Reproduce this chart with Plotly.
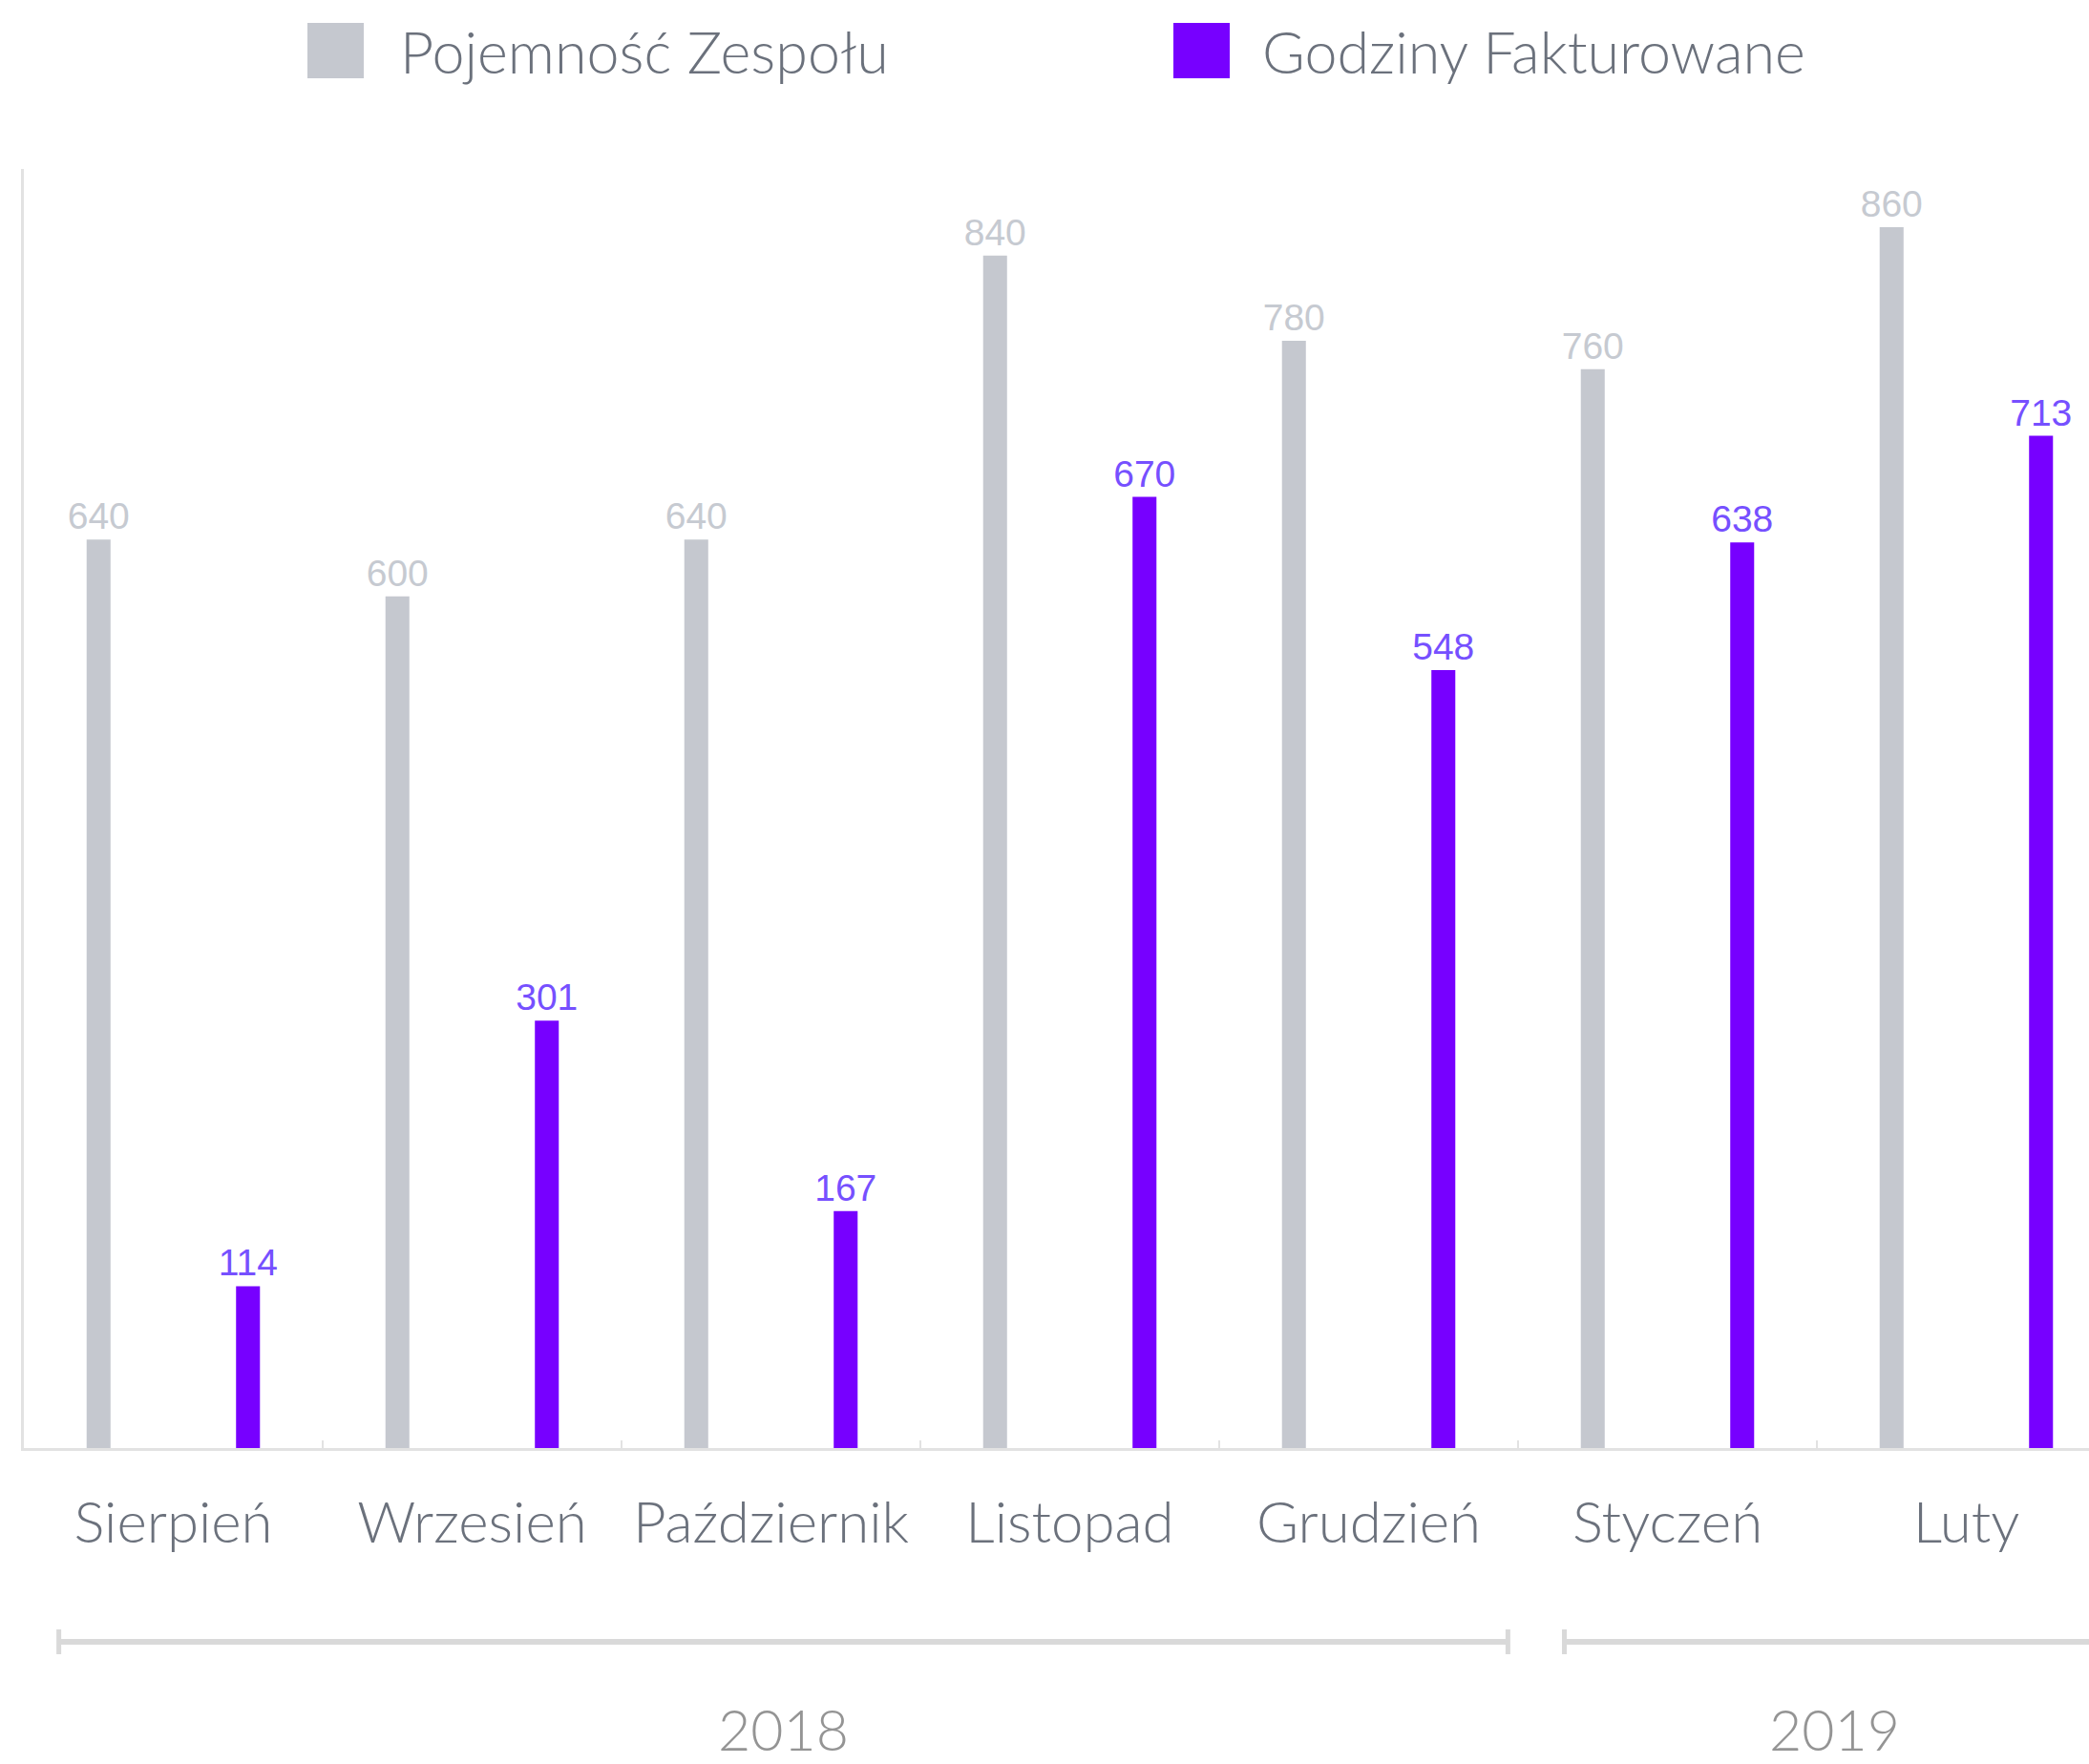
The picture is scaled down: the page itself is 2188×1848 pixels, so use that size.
import plotly.graph_objects as go

# ---- data ----
months = ["Sierpień", "Wrzesień", "Październik", "Listopad", "Grudzień", "Styczeń", "Luty"]
capacity = [640, 600, 640, 840, 780, 760, 860]
billed = [114, 301, 167, 670, 548, 638, 713]
series_names = ["Pojemność Zespołu", "Godziny Fakturowane"]
years = ["2018", "2019"]
# bracket spans in category units (start, end)
year_spans = [(-0.383, 4.466), (4.655, 6.46)]

W, H = 2188, 1848
ML, MR, MT = 25, 0, 177
MB = H - 1517
PW, PH = W - ML - MR, H - MT - MB

GREY = "#c5c8cf"
PURPLE = "#7700ff"
LABEL_GREY = "#c6cad1"
LABEL_PURPLE = "#7650ff"
TEXT = "#6b717c"
AXIS = "#e2e2e2"
BRACKET = "#d9d9d9"
YEAR = "#949494"
FONT_MAIN = "Lato, 'Noto Sans', sans-serif"
FONT_NUM = "'Liberation Sans', Arial, sans-serif"

fig = go.Figure()
fig.add_trace(go.Bar(
    x=months, y=capacity, name=series_names[0],
    marker=dict(color=GREY, line=dict(width=0)),
    text=[str(v) for v in capacity], textposition="outside", constraintext="none",
    textfont=dict(family=FONT_NUM, size=39, color=LABEL_GREY),
    cliponaxis=False, showlegend=False,
))
fig.add_trace(go.Bar(
    x=months, y=billed, name=series_names[1],
    marker=dict(color=PURPLE, line=dict(width=0)),
    text=[str(v) for v in billed], textposition="outside", constraintext="none",
    textfont=dict(family=FONT_NUM, size=39, color=LABEL_PURPLE),
    cliponaxis=False, showlegend=False,
))

cat_px = 313.0
x_end = -0.5 + PW / cat_px

fig.update_layout(
    width=W, height=H,
    margin=dict(l=ML, r=MR, t=MT, b=MB, pad=0),
    paper_bgcolor="white", plot_bgcolor="white",
    barmode="group", bargap=0.0, bargroupgap=0.84,
    xaxis=dict(
        range=[-0.5, x_end], showline=True, linecolor=AXIS, linewidth=3,
        ticks="inside", tickson="boundaries", ticklen=8, tickwidth=2, tickcolor=AXIS,
        tickfont=dict(family=FONT_MAIN, size=60, color=TEXT, weight=300),
        ticklabelstandoff=24, showgrid=False, zeroline=False, fixedrange=True,
    ),
    yaxis=dict(
        range=[0, 901], showline=True, linecolor=AXIS, linewidth=3,
        showticklabels=False, ticks="", showgrid=False, zeroline=False, fixedrange=True,
    ),
)

# convert page pixel positions to paper coords
def px_x(p):
    return (p - ML) / PW

def px_y(p):
    return (MT + PH - p) / PH

# legend (drawn manually for large square swatches)
legend_items = [(series_names[0], GREY, 322, 417), (series_names[1], PURPLE, 1229, 1320)]
for name, col, sx, tx in legend_items:
    fig.add_shape(type="rect", xref="paper", yref="paper",
                  x0=px_x(sx), x1=px_x(sx + 59), y0=px_y(82), y1=px_y(24),
                  fillcolor=col, line=dict(width=0))
    fig.add_annotation(xref="paper", yref="paper", x=px_x(tx), y=px_y(54),
                       text=name, showarrow=False, xanchor="left", yanchor="middle",
                       font=dict(family=FONT_MAIN, size=61, color=TEXT, weight=300))

# year brackets
by = px_y(1720)
cap_top, cap_bot = px_y(1707), px_y(1733)
for label, (a, b) in zip(years, year_spans):
    fig.add_shape(type="line", xref="x", yref="paper", x0=a, x1=b, y0=by, y1=by,
                  line=dict(color=BRACKET, width=6))
    fig.add_shape(type="line", xref="x", yref="paper", x0=a, x1=a, y0=cap_bot, y1=cap_top,
                  line=dict(color=BRACKET, width=5))
    fig.add_shape(type="line", xref="x", yref="paper", x0=b, x1=b, y0=cap_bot, y1=cap_top,
                  line=dict(color=BRACKET, width=5))
    fig.add_annotation(xref="x", yref="paper", x=(a + b) / 2, y=px_y(1812),
                       text=label, showarrow=False, xanchor="center", yanchor="middle",
                       font=dict(family=FONT_MAIN, size=59, color=YEAR, weight=300))

fig.write_html(
    "out.html",
    config={"displayModeBar": False},
    post_script="document.body.style.margin='0';document.body.style.overflow='hidden';",
)
